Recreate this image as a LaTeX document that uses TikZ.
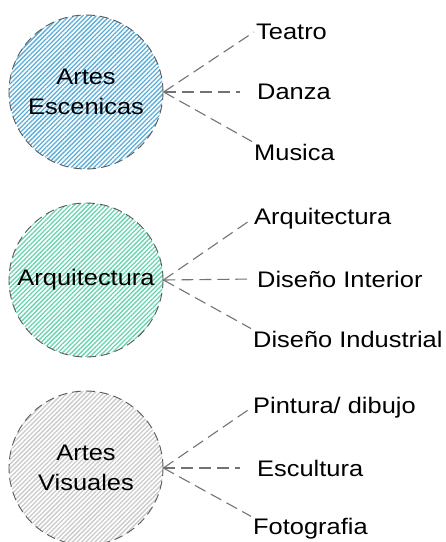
\documentclass[tikz,border=0pt]{standalone}
\usepackage{fontspec}
\setmainfont{Liberation Sans}[FakeStretch=1.13]
\usepackage{tikz}
\usetikzlibrary{patterns.meta}
\definecolor{hatchblue}{HTML}{5AADD8}
\definecolor{hatchgreen}{HTML}{66D4AE}
\definecolor{hatchgray}{HTML}{CACACA}
\begin{document}
\begin{tikzpicture}[x=1pt, y=-1pt,
			area_style/.style={circle,draw=black!65,dashed,dash pattern=on 9pt off 5pt,line width=0.9pt,
				minimum size=154pt,inner sep=0pt,align=center,font=\fontsize{22.5}{30}\selectfont,
				pattern={Lines[angle=45,distance=3.2pt,line width=1.3pt]}},
			item_style/.style={anchor=west,inner sep=2pt,font=\fontsize{22.5}{27}\selectfont},
			edge_style/.style={draw=black!55,line width=1.1pt,dash pattern=on 12pt off 6pt}]
			\useasboundingbox (0,0) rectangle (446,542);
			\node[area_style,pattern color=hatchblue] (escenicas) at (86,92) {Artes\\Escenicas};
			\node[area_style,pattern color=hatchgreen] (arquitectura) at (86,280) {Arquitectura};
			\node[area_style,pattern color=hatchgray] (visuales) at (86,468) {Artes\\Visuales};
			\node[item_style] (teatro) at (254,32) {Teatro};
			\node[item_style] (danza) at (255,92) {Danza};
			\node[item_style] (musica) at (252,152) {Musica};
			\node[item_style] (arq) at (252,219) {Arquitectura};
			\node[item_style] (interior) at (255,279) {Diseño Interior};
			\node[item_style] (industrial) at (251,339) {Diseño Industrial};
			\node[item_style] (pintura) at (251,408) {Pintura/ dibujo};
			\node[item_style] (escultura) at (255,468) {Escultura};
			\node[item_style] (fotografia) at (251,529) {Fotografia};
			\draw[edge_style]  (escenicas.east) edge (teatro.west);
			\draw[edge_style]  (escenicas.east) edge[shorten >=15pt] (danza.west);
			\draw[edge_style]  (escenicas.east) edge (musica.north west);
			\draw[edge_style]  (arquitectura.east) edge (arq.west);
			\draw[edge_style]  (arquitectura.east) edge[shorten >=8pt] (interior.west);
			\draw[edge_style]  (arquitectura.east) edge (industrial.north west);
			\draw[edge_style]  (visuales.east) edge (pintura.west);
			\draw[edge_style]  (visuales.east) edge[shorten >=15pt] (escultura.west);
			\draw[edge_style]  (visuales.east) edge (fotografia.north west);
\end{tikzpicture}
\end{document}
